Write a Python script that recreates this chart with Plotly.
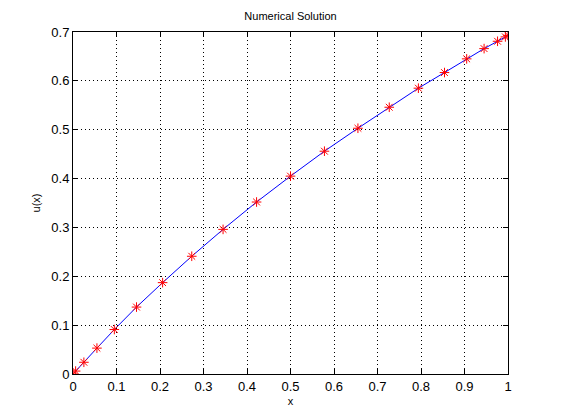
import plotly.graph_objects as go

x = [0.0, 0.006, 0.025, 0.055, 0.095, 0.146, 0.206, 0.273, 0.345, 0.422, 0.5,
     0.578, 0.655, 0.727, 0.794, 0.854, 0.905, 0.945, 0.976, 0.994, 1.0]
u = [0.0, 0.006, 0.024, 0.053, 0.091, 0.137, 0.187, 0.241, 0.296, 0.352, 0.405,
     0.456, 0.503, 0.546, 0.585, 0.617, 0.645, 0.666, 0.681, 0.690, 0.693]

xticks = [0, 0.1, 0.2, 0.3, 0.4, 0.5, 0.6, 0.7, 0.8, 0.9, 1]
yticks = [0, 0.1, 0.2, 0.3, 0.4, 0.5, 0.6, 0.7]

fig = go.Figure()

# interpolant line
fig.add_trace(go.Scatter(
    x=x, y=u, mode='lines',
    line=dict(color='blue', width=1),
    showlegend=False
))

# grid values
fig.add_trace(go.Scatter(
    x=x, y=u, mode='markers',
    marker=dict(symbol='asterisk-open', size=8, color='red',
                line=dict(color='red', width=1)),
    showlegend=False
))

axis_style = dict(
    showline=True, linecolor='black', linewidth=1, mirror='ticks',
    ticks='inside', ticklen=5, tickcolor='black',
    showgrid=True, gridcolor='black', griddash='1px,3px', gridwidth=1,
    zeroline=False, tickfont=dict(size=13, color='black'),
)

# page body adds an 8px offset, so margins are shifted to compensate
fig.update_layout(
    width=561, height=420,
    margin=dict(l=65, r=61, t=24, b=54),
    plot_bgcolor='white', paper_bgcolor='white',
    font=dict(family='Liberation Sans, Arial', size=11, color='black'),
    title=dict(text='Numerical Solution', x=0.5, xanchor='center', xref='paper',
               y=0.98, yanchor='middle', font=dict(size=11)),
    xaxis=dict(range=[0, 1], tickvals=xticks,
               ticktext=[f'{t:g}' for t in xticks],
               title=dict(text='x', standoff=4, font=dict(size=11)), **axis_style),
    yaxis=dict(range=[0, 0.7], tickvals=yticks,
               ticktext=[f'{t:g}' for t in yticks],
               title=dict(text='u(x)', standoff=8, font=dict(size=11)), **axis_style),
)

fig.write_html("out.html")
